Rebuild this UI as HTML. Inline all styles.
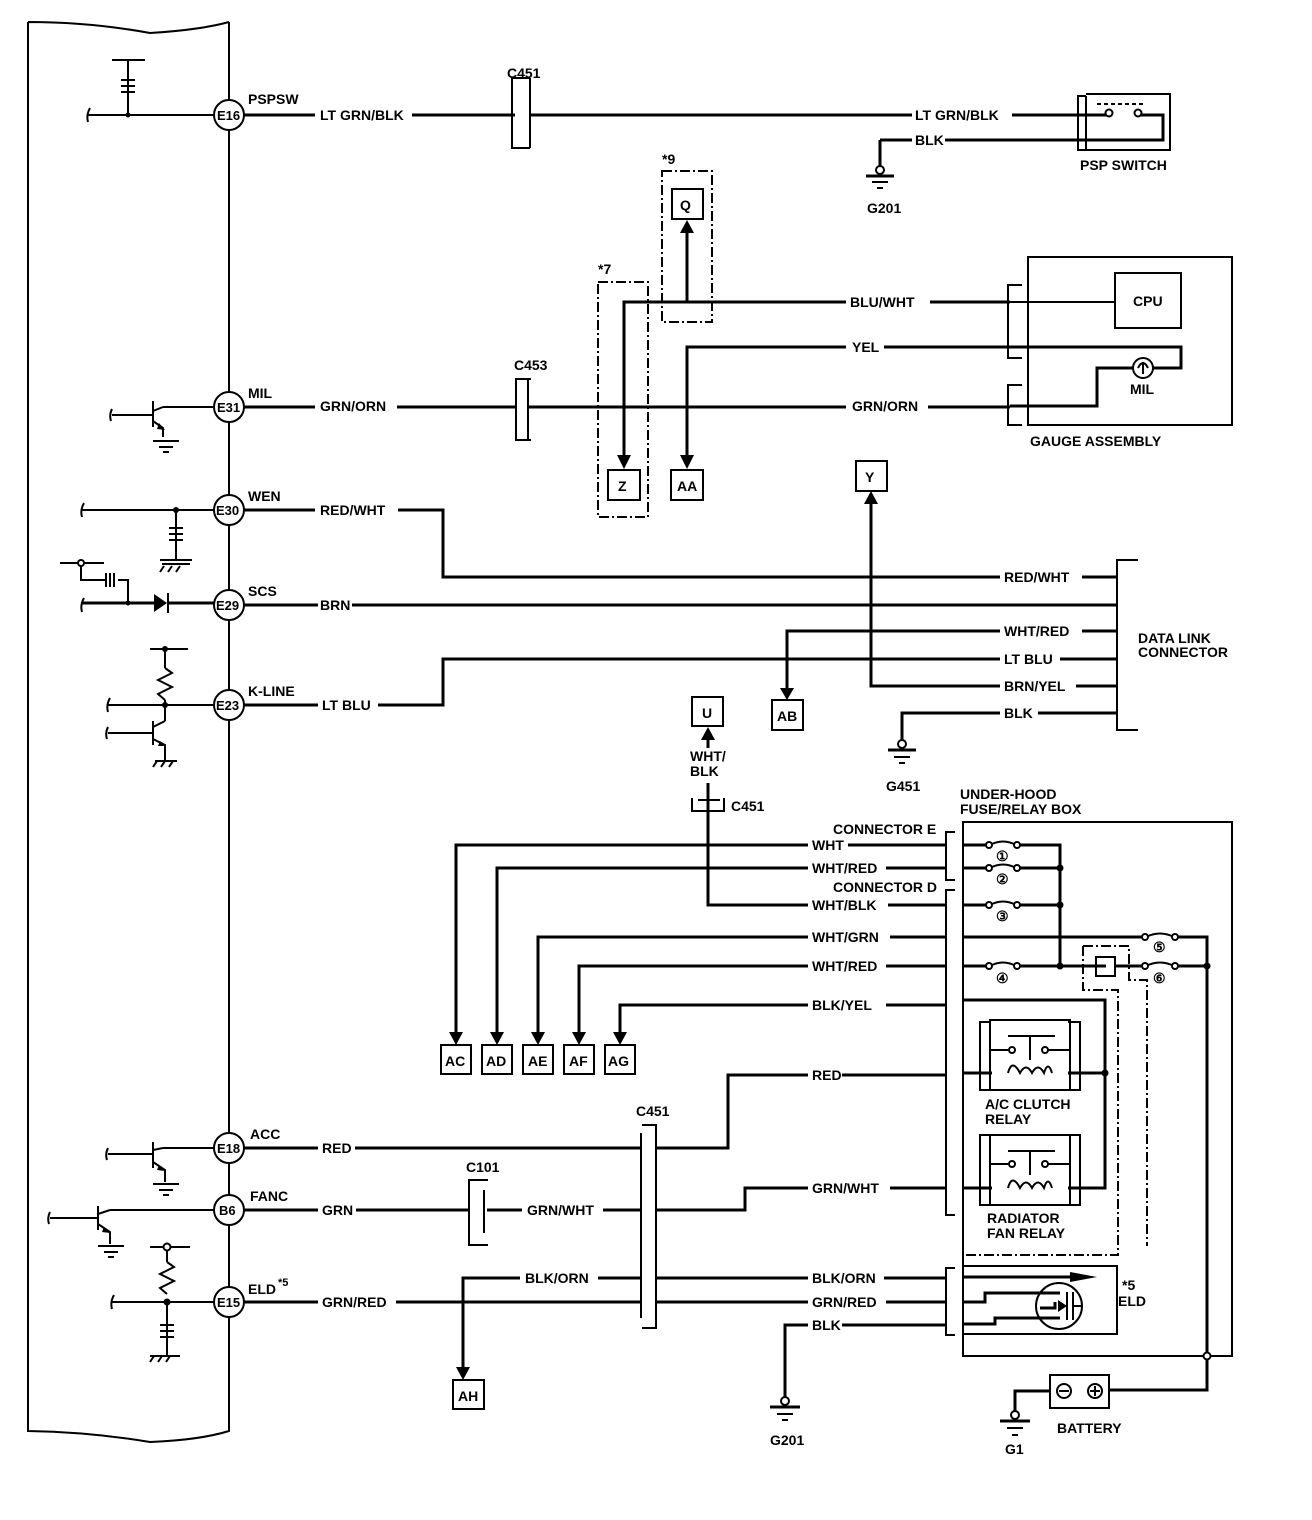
<!DOCTYPE html>
<html><head><meta charset="utf-8"><style>
html,body{margin:0;padding:0;background:#fff;}
svg{display:block;}
text{font-family:"Liberation Sans",Arial,sans-serif;font-weight:bold;font-size:14px;fill:#000;}
.w{stroke:#000;stroke-width:3;fill:none;}
.t{stroke:#000;stroke-width:2;fill:none;}
.d{stroke:#000;stroke-width:2;fill:none;stroke-dasharray:10 3 2 3;}
.b{stroke:#000;stroke-width:2;fill:#fff;}
</style></head><body>
<svg width="1312" height="1520" viewBox="0 0 1312 1520" xmlns="http://www.w3.org/2000/svg">
<path class="t" d="M28,22 Q90,22 150,33 Q200,30 229,22 M28,22 V1431 Q90,1432 150,1442 Q200,1440 229,1431 V22"/>

<g>
<circle class="b" cx="229" cy="115" r="15"/><text x="217" y="120" style="font-size:13px">E16</text>
<circle class="b" cx="229" cy="407" r="15"/><text x="217" y="412" style="font-size:13px">E31</text>
<circle class="b" cx="229" cy="510" r="15"/><text x="216" y="515" style="font-size:13px">E30</text>
<circle class="b" cx="229" cy="605" r="15"/><text x="216" y="610" style="font-size:13px">E29</text>
<circle class="b" cx="229" cy="705" r="15"/><text x="216" y="710" style="font-size:13px">E23</text>
<circle class="b" cx="229" cy="1148" r="15"/><text x="217" y="1153" style="font-size:13px">E18</text>
<circle class="b" cx="229" cy="1210" r="15"/><text x="219" y="1215" style="font-size:13px">B6</text>
<circle class="b" cx="229" cy="1302" r="15"/><text x="217" y="1307" style="font-size:13px">E15</text>
</g>

<text x="248" y="104">PSPSW</text>
<text x="248" y="398">MIL</text>
<text x="248" y="501">WEN</text>
<text x="248" y="596">SCS</text>
<text x="248" y="696">K-LINE</text>
<text x="250" y="1139">ACC</text>
<text x="250" y="1201">FANC</text>
<text x="248" y="1294">ELD</text><text x="278" y="1286" style="font-size:11px">*5</text>

<path class="t" d="M88,115 H214 M128,115 V60 M112,60 H145"/>
<path class="t" d="M121,80 H135 M121,86 H135 M121,92 H135" />
<circle cx="128" cy="115" r="2.5"/>
<path class="t" d="M90,108 Q86,115 88,122"/>
<path class="w" d="M244,115 H315 M412,115 H515"/>
<text x="320" y="120">LT GRN/BLK</text>
<path class="t" d="M530,78 H512 V148 H530 M530,78 V148"/>
<text x="507" y="78">C451</text>
<path class="w" d="M530,115 H912 M1012,115 H1097"/>
<text x="915" y="120">LT GRN/BLK</text>
<path class="w" d="M880,140 H912 M945,140 H1097"/>
<text x="915" y="145">BLK</text>
<path class="w" d="M880,140 V166"/>
<circle class="b" cx="880" cy="170" r="4"/>
<path class="w" d="M866,176 H894"/><path class="t" d="M872,182 H888 M877,188 H883"/>
<text x="867" y="213">G201</text>
<path class="t" d="M1086,96 H1078 V150 H1086 M1086,96 V150 M1086,94 H1170 V150 H1086"/>
<path class="t" d="M1097,104 H1145" stroke-dasharray="4 3"/>
<path class="w" d="M1097,115 H1107 M1139,115 H1163 V140 H1097"/>
<circle class="b" cx="1109" cy="113" r="3.5"/><circle class="b" cx="1138" cy="113" r="3.5"/>
<text x="1080" y="170">PSP SWITCH</text>

<rect class="d" x="662" y="171" width="50" height="151"/>
<text x="662" y="164">*9</text>
<rect class="b" x="672" y="189" width="31" height="30"/><text x="680" y="210">Q</text>
<path class="w" d="M687,302 V230"/><path d="M680,233 L687,220 L694,233 Z"/>
<rect class="d" x="598" y="282" width="50" height="235"/>
<text x="598" y="274">*7</text>
<rect class="b" x="608" y="470" width="32" height="30"/><text x="618" y="491">Z</text>
<rect class="b" x="671" y="470" width="32" height="30"/><text x="677" y="491">AA</text>
<path class="w" d="M624,455 V302 H846 M930,302 H1010"/>
<path d="M617,455 L624,469 L631,455 Z"/>
<text x="850" y="307">BLU/WHT</text>
<path class="w" d="M687,455 V347 H846 M884,347 H1010"/>
<path d="M680,455 L687,469 L694,455 Z"/>
<text x="852" y="352">YEL</text>

<g transform="translate(153,419)">
<path class="t" d="M-41,-4 H0 M0,-18 V8 M0,-8 L10,-12 M0,2 L10,9 V18 M-41,-10 Q-44,-4 -42,2"/>
<path d="M6,4 L12,11 L4,10 Z"/>
<path class="t" d="M0,22 H26 M6,28 H20 M10,33 H16"/>
</g>
<path class="t" d="M163,407 H214"/>
<path class="w" d="M244,407 H315 M397,407 H515"/>
<text x="320" y="411">GRN/ORN</text>
<path class="t" d="M531,379 H516 V440 H531 M528,380 V440"/>
<text x="514" y="370">C453</text>
<path class="w" d="M528,407 H846 M928,407 H1010"/>
<text x="852" y="411">GRN/ORN</text>
<rect class="t" x="1028" y="257" width="204" height="168"/>
<path class="t" d="M1022,285 H1008 V358 H1022 M1022,385 H1008 V425 H1022"/>
<path class="t" d="M1010,302 H1115"/>
<rect class="t" x="1115" y="273" width="66" height="55"/><text x="1133" y="306">CPU</text>
<path class="w" d="M1010,347 H1181 V368 H1153 M1133,368 H1097 V406 H1010"/>
<circle class="b" cx="1143" cy="368" r="10"/><path class="t" d="M1138,368 Q1143,358 1148,368 M1143,362 V374"/>
<text x="1130" y="394">MIL</text>
<text x="1030" y="446">GAUGE ASSEMBLY</text>

<path class="t" d="M82,510 H214 M176,510 V560 M160,560 H192"/>
<circle cx="176" cy="510" r="3"/>
<path class="t" d="M169,528 H183 M169,534 H183 M169,540 H183 M84,503 Q80,510 82,517 M164,566 L160,572 M172,566 L168,572 M180,566 L176,572 M162,564 H190"/>
<path class="w" d="M244,510 H315 M398,510 H443 V577 H1000 M1082,577 H1117"/>
<text x="320" y="515">RED/WHT</text>
<text x="1004" y="582">RED/WHT</text>

<path class="t" d="M60,563 H104 M81,563 V580 H105 M118,580 H128 V603 M84,598 Q80,605 82,612"/>
<circle class="b" cx="81" cy="563" r="3"/>
<path class="t" d="M106,573 V587 M110,573 V587 M114,573 V587"/>
<path class="w" d="M82,603 H154 M168,603 H214"/>
<circle cx="128" cy="603" r="2.5"/>
<path d="M154,594 L167,603 L154,612 Z"/><path class="t" d="M168,593 V613"/>
<path class="w" d="M244,605 H318 M352,605 H1117"/>
<text x="320" y="610">BRN</text>

<path class="t" d="M1138,560 H1117 V730 H1138"/>
<text x="1138" y="643">DATA LINK</text><text x="1138" y="657">CONNECTOR</text>
<path class="w" d="M787,690 V631 H1000 M1082,631 H1117"/>
<path d="M780,688 L787,700 L794,688 Z"/>
<rect class="b" x="772" y="700" width="31" height="30"/><text x="777" y="721">AB</text>
<text x="1004" y="636">WHT/RED</text>
<path class="w" d="M244,705 H318 M378,705 H443 V659 H1000 M1060,659 H1117"/>
<text x="322" y="710">LT BLU</text>
<text x="1004" y="664">LT BLU</text>
<path class="w" d="M871,502 V686 H1000 M1076,686 H1117"/>
<path d="M864,504 L871,491 L878,504 Z"/>
<rect class="b" x="856" y="461" width="31" height="30"/><text x="865" y="482">Y</text>
<text x="1004" y="691">BRN/YEL</text>
<path class="w" d="M902,740 V713 H1000 M1038,713 H1117"/>
<text x="1004" y="718">BLK</text>
<circle class="b" cx="902" cy="744" r="4"/>
<path class="w" d="M888,750 H916"/><path class="t" d="M894,757 H910 M899,763 H905"/>
<text x="886" y="791">G451</text>

<path class="t" d="M150,649 H188 M165,649 V668 M108,705 H214 M165,700 V720 M110,698 Q106,705 108,712"/>
<circle cx="165" cy="649" r="3"/><circle cx="165" cy="705" r="3"/>
<path class="t" d="M165,668 L172,673 L158,680 L172,687 L158,694 L165,700"/>
<g transform="translate(153,733)">
<path class="t" d="M-45,0 H0 M0,-12 V12 M0,-6 L12,-12 M12,-12 V-28 M0,6 L12,12 V28 M-45,-6 Q-48,0 -46,6"/>
<path d="M7,8 L13,13 L5,13 Z"/>
<path class="t" d="M2,28 H24 M4,28 L0,34 M12,28 L8,34 M20,28 L16,34"/>
</g>

<rect class="b" x="692" y="697" width="31" height="29"/><text x="702" y="718">U</text>
<path class="w" d="M708,740 V748 M708,783 V905 H808 M888,905 H946"/>
<path d="M701,740 L708,727 L715,740 Z"/>
<text x="690" y="761">WHT/</text><text x="690" y="776">BLK</text>
<path class="t" d="M692,798 V811 H724 V798 M698,800 H720"/>
<text x="731" y="811">C451</text>
<text x="812" y="910">WHT/BLK</text>

<path class="w" d="M456,1032 V845 H808 M848,845 H946"/><text x="812" y="850">WHT</text>
<path class="w" d="M497,1032 V868 H808 M886,868 H946"/><text x="812" y="873">WHT/RED</text>
<path class="w" d="M538,1032 V937 H808 M890,937 H946"/><text x="812" y="942">WHT/GRN</text>
<path class="w" d="M579,1032 V966 H808 M886,966 H946"/><text x="812" y="971">WHT/RED</text>
<path class="w" d="M620,1032 V1005 H808 M886,1005 H946"/><text x="812" y="1010">BLK/YEL</text>
<g>
<path d="M449,1032 L456,1045 L463,1032 Z"/><path d="M490,1032 L497,1045 L504,1032 Z"/><path d="M531,1032 L538,1045 L545,1032 Z"/><path d="M572,1032 L579,1045 L586,1032 Z"/><path d="M613,1032 L620,1045 L627,1032 Z"/>
<rect class="b" x="441" y="1045" width="30" height="29"/><text x="445" y="1066">AC</text>
<rect class="b" x="482" y="1045" width="30" height="29"/><text x="486" y="1066">AD</text>
<rect class="b" x="523" y="1045" width="30" height="29"/><text x="528" y="1066">AE</text>
<rect class="b" x="564" y="1045" width="30" height="29"/><text x="569" y="1066">AF</text>
<rect class="b" x="605" y="1045" width="30" height="29"/><text x="608" y="1066">AG</text>
</g>

<text x="833" y="834">CONNECTOR E</text>
<text x="833" y="892">CONNECTOR D</text>
<path class="t" d="M955,832 H946 V880 H955 M955,890 H946 V1215 H955"/>

<text x="960" y="799">UNDER-HOOD</text><text x="960" y="814">FUSE/RELAY BOX</text>
<path class="t" d="M963,822 H1232 V1356 H963 Z"/>
<path class="w" d="M963,845 H988 M1018,845 H1060 V966 M963,868 H988 M1018,868 H1060 M963,905 H988 M1018,905 H1060 M963,966 H988 M1018,966 H1106 M1116,966 H1144 M1176,966 H1207 M963,937 H1144 M1176,937 H1207 V1390 H1110"/>
<g class="t">
<path d="M990,845 Q1003,838 1016,845 M990,868 Q1003,861 1016,868 M990,905 Q1003,898 1016,905 M990,966 Q1003,959 1016,966 M1146,937 Q1160,930 1174,937 M1146,966 Q1160,959 1174,966"/>
</g>
<g fill="#fff" stroke="#000" stroke-width="2">
<circle cx="989" cy="845" r="3"/><circle cx="1017" cy="845" r="3"/><circle cx="989" cy="868" r="3"/><circle cx="1017" cy="868" r="3"/><circle cx="989" cy="905" r="3"/><circle cx="1017" cy="905" r="3"/><circle cx="989" cy="966" r="3"/><circle cx="1017" cy="966" r="3"/><circle cx="1145" cy="937" r="3"/><circle cx="1175" cy="937" r="3"/><circle cx="1145" cy="966" r="3"/><circle cx="1175" cy="966" r="3"/>
</g>
<text x="996" y="861" style="font-size:14px">①</text><text x="996" y="884" style="font-size:14px">②</text><text x="996" y="921" style="font-size:14px">③</text><text x="996" y="983" style="font-size:14px">④</text><text x="1153" y="952" style="font-size:14px">⑤</text><text x="1153" y="983" style="font-size:14px">⑥</text>
<circle cx="1060" cy="868" r="3.5"/><circle cx="1060" cy="905" r="3.5"/><circle cx="1060" cy="966" r="3.5"/><circle cx="1207" cy="966" r="3.5"/>
<rect class="t" x="1096" y="957" width="19" height="19"/>
<path class="d" d="M1083,946 H1129 V980 H1147 V1246 M1083,946 V990 H1118 V1255 H963"/>
<path class="w" d="M963,1000 H1105 V1073 H1068 M963,1073 H992"/>
<circle cx="1105" cy="1073" r="3.5"/>
<path class="t" d="M990,1022 H980 V1090 H990 M1068,1022 H1080 V1090 H1068"/>
<rect class="t" x="990" y="1020" width="80" height="70"/>
<path class="t" d="M1008,1036 H1055 M1030,1036 V1060 M990,1050 H1008 M1048,1050 H1070 M1008,1073 Q1012,1058 1020,1073 Q1026,1062 1032,1073 Q1038,1062 1044,1073 Q1048,1060 1052,1073"/>
<circle class="b" cx="1012" cy="1050" r="3"/><circle class="b" cx="1045" cy="1050" r="3"/>
<text x="985" y="1109">A/C CLUTCH</text><text x="985" y="1124">RELAY</text>
<path class="w" d="M963,1188 H992 M1068,1188 H1105 V1075"/>
<path class="t" d="M990,1135 H980 V1205 H990 M1068,1135 H1080 V1205 H1068"/>
<rect class="t" x="990" y="1135" width="80" height="70"/>
<path class="t" d="M1008,1151 H1055 M1030,1151 V1175 M990,1164 H1008 M1048,1164 H1070 M1008,1188 Q1012,1173 1020,1188 Q1026,1177 1032,1188 Q1038,1177 1044,1188 Q1048,1175 1052,1188"/>
<circle class="b" cx="1012" cy="1164" r="3"/><circle class="b" cx="1045" cy="1164" r="3"/>
<text x="987" y="1223">RADIATOR</text><text x="987" y="1238">FAN RELAY</text>
<path class="t" d="M955,1268 H946 V1335 H955"/>
<rect class="t" x="963" y="1266" width="154" height="68"/>
<path class="w" d="M963,1277 H1085 M963,1302 H985 V1293 H1060 M963,1324 H995 V1318 H1060 M1040,1308 H1055 V1302"/>
<path d="M1070,1272 L1097,1277 L1070,1282 Z"/>
<circle class="t" cx="1059" cy="1306" r="23"/>
<path class="t" d="M1067,1292 V1320 M1073,1292 V1320 M1073,1306 H1082"/>
<path d="M1058,1300 L1067,1306 L1058,1312 Z"/>
<text x="1122" y="1290">*5</text><text x="1118" y="1306">ELD</text>
<circle class="b" cx="1207" cy="1356" r="3.5"/>
<rect class="t" x="1050" y="1375" width="59" height="33"/>
<circle class="t" cx="1064" cy="1391" r="7"/><path class="t" d="M1059,1391 H1069"/>
<circle class="t" cx="1095" cy="1391" r="7"/><path class="t" d="M1090,1391 H1100 M1095,1386 V1396"/>
<path class="w" d="M1050,1391 H1015 V1412"/>
<circle class="b" cx="1015" cy="1415" r="4"/>
<path class="w" d="M1000,1421 H1030"/><path class="t" d="M1007,1428 H1023 M1012,1435 H1018"/>
<text x="1057" y="1433">BATTERY</text>
<text x="1005" y="1454">G1</text>

<g transform="translate(153,1160)">
<path class="t" d="M-45,-6 H0 M0,-18 V8 M0,-10 L10,-12 M0,2 L12,10 V22 M-45,-12 Q-48,-6 -46,0"/>
<path d="M6,5 L12,11 L4,10 Z"/>
<path class="t" d="M0,24 H26 M6,30 H20 M10,35 H16"/>
</g>
<path class="t" d="M163,1148 H214"/>
<path class="w" d="M244,1148 H318 M355,1148 H641 M656,1148 H728 V1075 H808 M842,1075 H946"/>
<text x="322" y="1153">RED</text><text x="812" y="1080">RED</text>
<path class="t" d="M641,1133 V1318 M642,1125 H656 V1328 H642"/>
<text x="636" y="1116">C451</text>

<g transform="translate(98,1222)">
<path class="t" d="M-48,-4 H0 M0,-16 V8 M0,-8 L12,-12 M0,2 L12,10 V22 M-48,-10 Q-51,-4 -49,2"/>
<path d="M6,5 L12,11 L4,10 Z"/>
<path class="t" d="M0,24 H26 M6,30 H20 M10,35 H16"/>
</g>
<path class="t" d="M110,1210 H214"/>
<path class="w" d="M244,1210 H318 M356,1210 H470 M487,1210 H522 M603,1210 H641 M656,1210 H745 V1188 H808 M890,1188 H946"/>
<text x="322" y="1215">GRN</text><text x="527" y="1215">GRN/WHT</text><text x="812" y="1193">GRN/WHT</text>
<path class="t" d="M488,1180 H469 V1245 H488 M484,1190 V1233"/>
<text x="466" y="1172">C101</text>

<path class="t" d="M150,1247 H190 M167,1247 V1262 M112,1302 H214 M167,1302 V1356 M150,1356 H180 M114,1295 Q110,1302 112,1309"/>
<circle class="b" cx="167" cy="1247" r="3.5"/><circle cx="167" cy="1302" r="3.5"/>
<path class="t" d="M167,1262 L174,1267 L160,1274 L174,1281 L160,1288 L167,1294"/>
<path class="t" d="M160,1325 H174 M160,1331 H174 M160,1337 H174"/>
<path class="t" d="M154,1356 L150,1362 M162,1356 L158,1362 M170,1356 L166,1362"/>
<path class="w" d="M244,1302 H318 M396,1302 H641 M656,1302 H808 M886,1302 H946"/>
<text x="322" y="1307">GRN/RED</text><text x="812" y="1307">GRN/RED</text>
<path class="w" d="M463,1367 V1278 H520 M598,1278 H641 M656,1278 H808 M884,1278 H946"/>
<path d="M456,1367 L463,1380 L470,1367 Z"/>
<rect class="b" x="453" y="1380" width="31" height="29"/><text x="458" y="1401">AH</text>
<text x="525" y="1283">BLK/ORN</text><text x="812" y="1283">BLK/ORN</text>
<path class="w" d="M785,1397 V1325 H808 M842,1325 H946"/>
<text x="812" y="1330">BLK</text>
<circle class="b" cx="785" cy="1401" r="4"/>
<path class="w" d="M770,1407 H800"/><path class="t" d="M777,1414 H793 M782,1420 H788"/>
<text x="770" y="1445">G201</text>
</svg>
</body></html>
